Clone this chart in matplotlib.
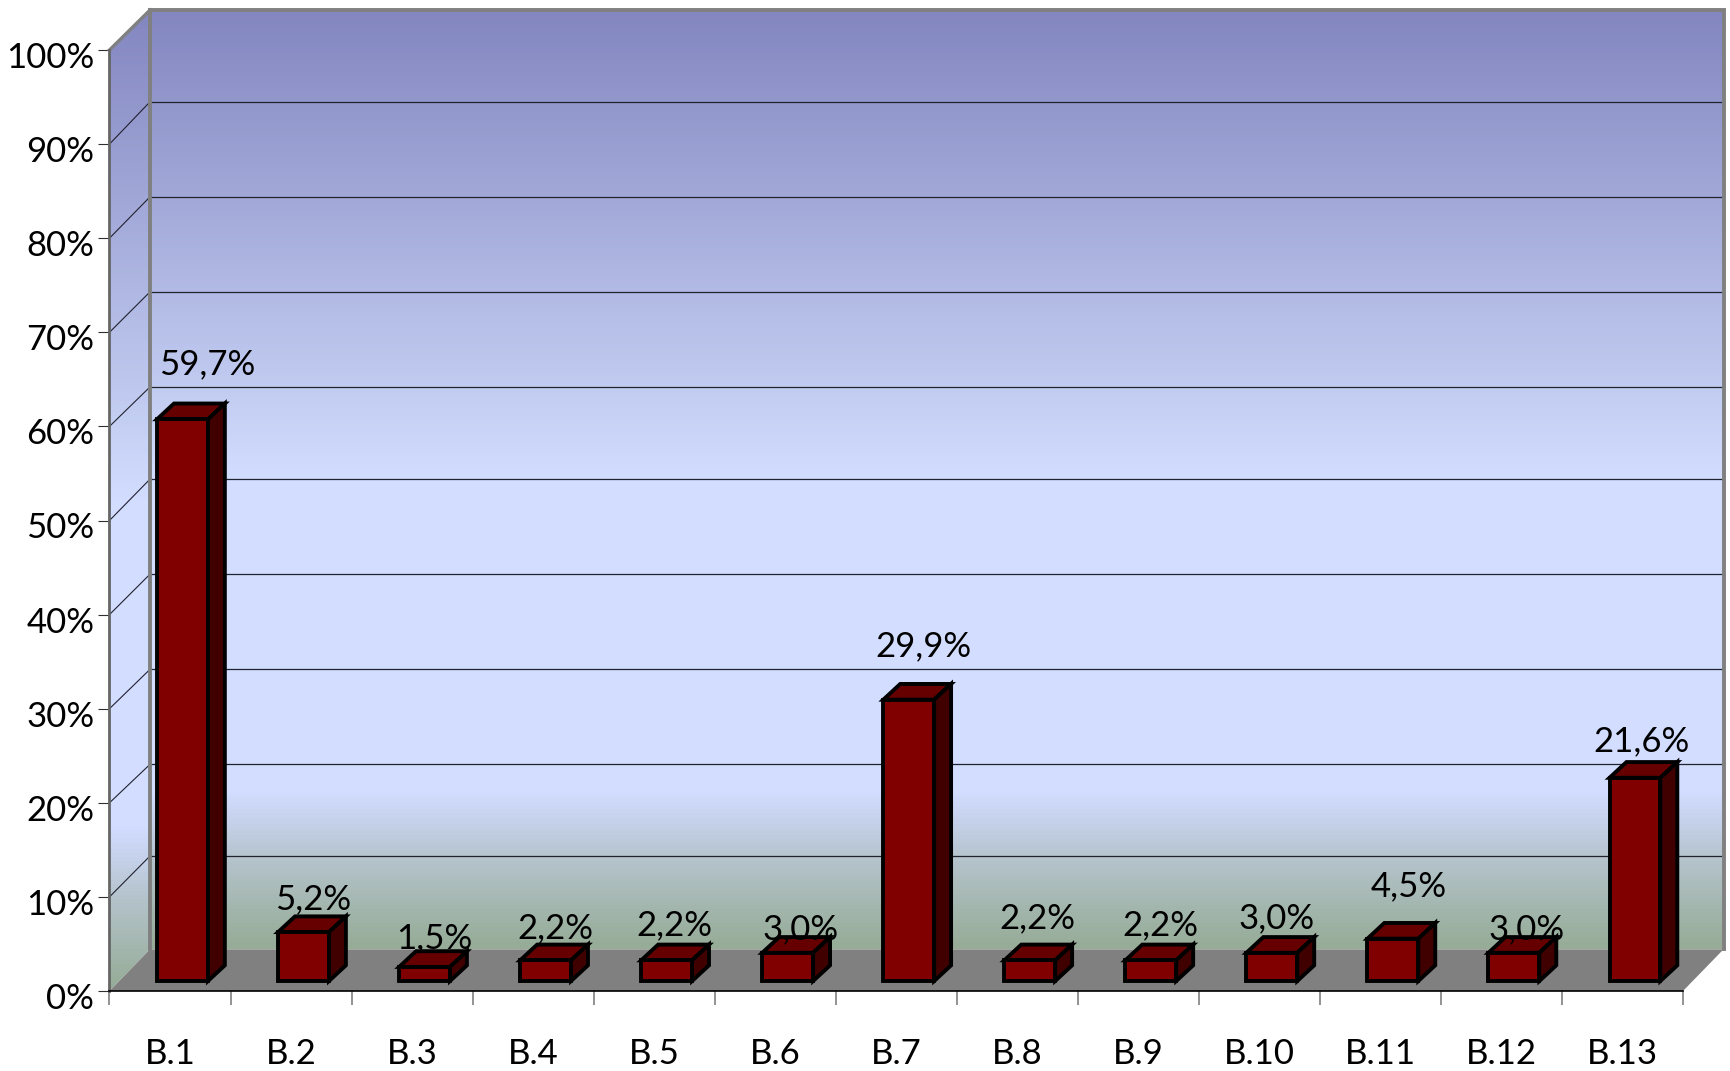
import numpy as np
import matplotlib
matplotlib.use('Agg')
import matplotlib.pyplot as plt
from matplotlib.colors import LinearSegmentedColormap
from matplotlib.patches import Polygon
from matplotlib.transforms import ScaledTranslation

categories = ['B.1', 'B.2', 'B.3', 'B.4', 'B.5', 'B.6', 'B.7', 'B.8', 'B.9', 'B.10', 'B.11', 'B.12', 'B.13']
values = [59.7, 5.2, 1.5, 2.2, 2.2, 3.0, 29.9, 2.2, 2.2, 3.0, 4.5, 3.0, 21.6]
value_labels = ['59,7%', '5,2%', '1,5%', '2,2%', '2,2%', '3,0%', '29,9%', '2,2%', '2,2%', '3,0%', '4,5%', '3,0%', '21,6%']
y_ticks = [0, 10, 20, 30, 40, 50, 60, 70, 80, 90, 100]
# the back wall lines are not evenly spaced in the original
back_grid = [14.35, 24.09, 34.19, 44.3, 54.4, 64.2, 74.3, 84.4, 94.5]

# label nudges from the bar top, in pixels
label_dx = [25, 10, 10, 10, 8, 13, 15, 8, 10, 5, 16, 13, 7]
label_dy = [55, 33, 29, 32, 35, 24, 53, 42, 35, 35, 52, 24, 37]

W, H = 1731, 1071
plt.rcParams['font.family'] = ['Lato', 'DejaVu Sans']
FS = 25

fig = plt.figure(figsize=(W / 100, H / 100), dpi=100)
ax = fig.add_axes([109.5 / W, (H - 991) / H, (1683 - 109.5) / W, 941 / H])
ax.patch.set_visible(False)

# depth of the fake 3d box and of the bars, in data units
depth_x, depth_y, back_top = 0.335, 4.43, 104.25
bar_dx, bar_dy = 0.14, 1.67
bar_w, bar_off, bar_base = 0.42, 0.393, 1.06

GREY = '#808080'
wall_cmap = LinearSegmentedColormap.from_list('wall', [
    (0.0, '#96AC96'), (0.099, '#B6C5CF'), (0.13, '#C4D0E8'), (0.166, '#D2DDFF'),
    (0.5, '#D2DDFF'), (0.62, '#BEC8EE'), (1.0, '#8386C0')])
grad = np.linspace(1, 0, 256).reshape(-1, 1)

# back wall
back = ax.imshow(grad, cmap=wall_cmap, vmin=0, vmax=1, aspect='auto',
                 extent=(depth_x, 13 + depth_x, depth_y, back_top), zorder=1)
back.set_clip_on(False)

# side wall
side_poly = Polygon([(0, 0), (depth_x, depth_y), (depth_x, back_top), (0, 100)],
                    closed=True, transform=ax.transData, facecolor='none', edgecolor='none')
ax.add_patch(side_poly)
side_poly.set_clip_on(False)
side = ax.imshow(grad, cmap=wall_cmap, vmin=0, vmax=1, aspect='auto',
                 extent=(0, depth_x, 0, back_top), zorder=1)
side.set_clip_path(side_poly)
side.set_clip_box(fig.bbox)

# floor
ax.add_patch(Polygon([(0, 0), (13, 0), (13 + depth_x, depth_y), (depth_x, depth_y)], closed=True,
                     facecolor=GREY, edgecolor='none', zorder=2, clip_on=False))

# grid on both walls
for t, b in zip(y_ticks[1:-1], back_grid):
    ax.plot([depth_x, 13 + depth_x], [b, b], color='#20222e', lw=0.9, zorder=2, clip_on=False)
    ax.plot([0, depth_x * 0.96], [t, t + (b - t) * 0.96], color='#20222e', lw=0.8, zorder=2, clip_on=False)

# frame of the box
ax.plot([depth_x, depth_x], [depth_y, back_top], color=GREY, lw=2.8, zorder=3, clip_on=False)
ax.plot([depth_x, 13 + depth_x, 13 + depth_x], [back_top, back_top, depth_y],
        color=GREY, lw=2.8, zorder=3, clip_on=False, solid_joinstyle='miter')
ax.plot([0, depth_x], [100, back_top], color=GREY, lw=2.4, zorder=3, clip_on=False)

# bars
x = np.arange(len(values)) + bar_off
ax.bar(x, values, bar_w, bottom=bar_base, align='edge', color='#800000',
       edgecolor='black', linewidth=2.8, zorder=5)
for xi, v in zip(x, values):
    top = bar_base + v
    ax.fill([xi, xi + bar_w, xi + bar_w + bar_dx, xi + bar_dx],
            [top, top, top + bar_dy, top + bar_dy],
            facecolor='#660000', edgecolor='black', linewidth=2.8, zorder=4, clip_on=False)
    ax.fill([xi + bar_w, xi + bar_w + bar_dx, xi + bar_w + bar_dx, xi + bar_w],
            [bar_base, bar_base + bar_dy, top + bar_dy, top],
            facecolor='#400000', edgecolor='black', linewidth=2.8, zorder=4, clip_on=False)

for i, (xi, v) in enumerate(zip(x, values)):
    ax.annotate(value_labels[i], (xi + bar_w / 2, bar_base + v), xytext=(label_dx[i], label_dy[i]),
                textcoords='offset pixels', ha='center', va='center', fontsize=FS, color='black',
                zorder=7, annotation_clip=False)

ax.set_xlim(0, 13)
ax.set_ylim(0, 100)

for name in ['top', 'right']:
    ax.spines[name].set_visible(False)
ax.spines['left'].set_color('#666666')
ax.spines['left'].set_linewidth(2)
ax.spines['bottom'].set_color('black')
ax.spines['bottom'].set_linewidth(1.2)
ax.spines['left'].set_zorder(6)
ax.spines['bottom'].set_zorder(6)

ax.set_yticks(y_ticks)
ax.set_yticklabels(['%d%%' % t for t in y_ticks], fontsize=FS, color='black')
ax.tick_params(axis='y', length=8, width=0.8, color='#303030', pad=3)
offset = ScaledTranslation(0, -5 / 100, fig.dpi_scale_trans)
for lab in ax.get_yticklabels():
    lab.set_transform(lab.get_transform() + offset)

ax.set_xticks(np.arange(14))
ax.set_xticklabels([])
ax.tick_params(axis='x', which='major', length=10, width=1.2, color=GREY)
ax.set_xticks(np.arange(13) + 0.5, minor=True)
ax.set_xticklabels(categories, minor=True, fontsize=FS, color='black')
ax.tick_params(axis='x', which='minor', length=0, pad=34)

fig.savefig('out.png', dpi=100, facecolor='white')
